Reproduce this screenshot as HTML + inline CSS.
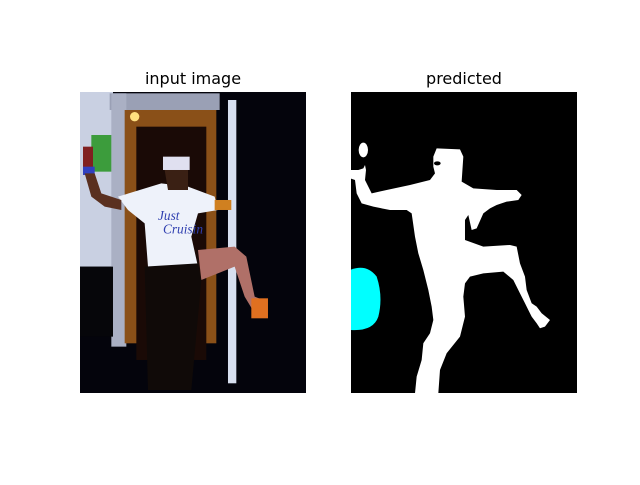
<!DOCTYPE html>
<html><head><meta charset="utf-8"><style>
body{margin:0;background:#fff;width:640px;height:480px;overflow:hidden;font-family:"Liberation Sans","DejaVu Sans",sans-serif}
</style></head><body>
<svg width="640" height="480">
<rect width="640" height="480" fill="#fff"/>
<text x="193" y="84" text-anchor="middle" font-size="16" font-family="DejaVu Sans, Liberation Sans, sans-serif">input image</text>
<text x="464" y="84" text-anchor="middle" font-size="16" font-family="DejaVu Sans, Liberation Sans, sans-serif">predicted</text>
<defs>
<clipPath id="cl"><rect x="80" y="92" width="226" height="301"/></clipPath>
<clipPath id="cr"><rect x="351" y="92" width="226" height="301"/></clipPath>
</defs>
<g clip-path="url(#cl)">
<rect x="80" y="92" width="226" height="301" fill="#04040c"/>
<g transform="translate(78,90) scale(0.3333)">
<rect x="5" y="0" width="100" height="530" fill="#c9d0e2"/>
<rect x="95" y="10" width="330" height="50" fill="#9aa0b5"/>
<rect x="100" y="10" width="45" height="760" fill="#aab0c4"/>
<rect x="140" y="60" width="275" height="700" fill="#8a5018"/>
<rect x="175" y="110" width="210" height="700" fill="#1a0a06"/>
<circle cx="170" cy="80" r="14" fill="#ffe080"/>
<rect x="40" y="135" width="60" height="110" fill="#3c9c3c"/>
<rect x="5" y="530" width="100" height="210" fill="#06060a"/>
<rect x="450" y="30" width="25" height="850" fill="#d8e0f0"/>
<polygon points="120,320 250,280 330,290 410,320 420,360 360,370 340,440 360,530 210,530 200,400 150,360" fill="#eef2fa"/>
<text x="240" y="390" font-size="40" font-style="italic" fill="#3040b0" font-family="Liberation Serif, serif">Just</text>
<text x="255" y="430" font-size="40" font-style="italic" fill="#3040b0" font-family="Liberation Serif, serif">Cruisin</text>
<rect x="15" y="170" width="30" height="80" fill="#802020"/>
<rect x="15" y="230" width="35" height="25" fill="#3040c0"/>
<polygon points="20,250 50,250 70,310 130,330 130,360 80,350 40,320" fill="#5a3020"/>
<polygon points="360,480 470,470 505,500 530,620 555,630 530,670 500,620 470,530 370,570" fill="#b07068"/>
<rect x="520" y="625" width="50" height="60" fill="#e07020"/>
<polygon points="200,530 360,520 370,570 340,900 210,900" fill="#100a08"/>
<rect x="255" y="200" width="80" height="40" fill="#e0e0f0"/>
<polygon points="260,240 330,240 330,300 270,300" fill="#3a2014"/>
<rect x="410" y="330" width="50" height="30" fill="#d08020"/>
</g>
</g>
<g clip-path="url(#cr)">
<rect x="351" y="92" width="226" height="301" fill="#000"/>
<g transform="translate(350,90) scale(0.3333)">
<polygon fill="#fff" points="260,175 330,178 340,200 335,275 370,295 440,300 500,300 515,315 505,330 470,335 440,345 420,355 400,370 380,415 365,420 355,375 345,390 345,450 400,470 480,465 500,470 510,520 525,560 530,600 545,640 560,650 575,670 600,690 585,710 570,715 560,700 545,680 535,660 525,640 510,610 490,570 460,545 400,550 360,560 345,580 340,620 345,680 330,740 290,790 270,840 265,910 195,910 200,860 215,810 220,760 240,730 250,690 245,650 235,600 220,540 205,490 195,440 185,370 170,360 120,360 70,350 35,340 20,310 15,270 0,265 0,240 25,240 40,235 45,225 48,240 45,270 65,310 110,300 180,285 240,270 255,250 250,230 250,200"/>
<ellipse cx="40" cy="180" rx="14" ry="22" fill="#fff"/>
<ellipse cx="262" cy="220" rx="10" ry="6" fill="#000"/>
<path d="M0,540 Q50,520 80,560 Q100,620 85,680 Q70,725 0,720 Z" fill="#00ffff"/>
</g>
</g>
</svg>
</body></html>
